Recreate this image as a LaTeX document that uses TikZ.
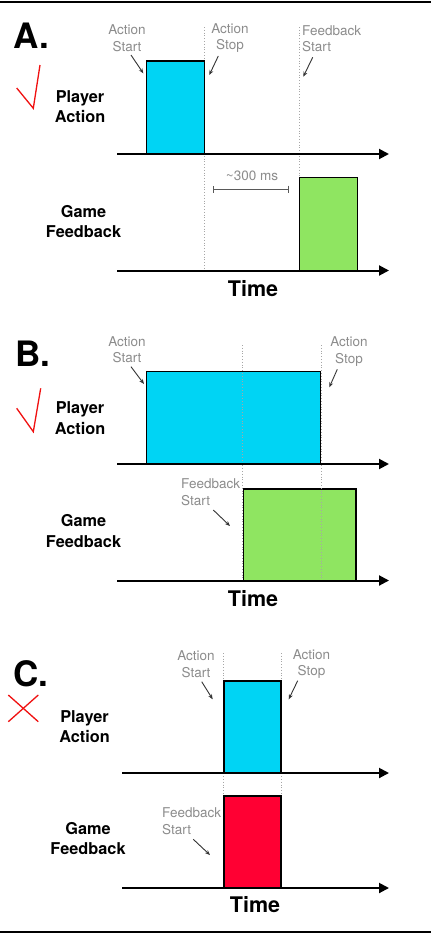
\documentclass[tikz,border=0pt]{standalone}
\usepackage{fontspec}
\setmainfont{TeX Gyre Heros}
\usetikzlibrary{arrows.meta}
\definecolor{barcyan}{HTML}{00D4F4}
\definecolor{bargreen}{HTML}{8FE561}
\definecolor{barred}{HTML}{FF0033}
\definecolor{lblgray}{HTML}{8C8C8C}
\definecolor{tickred}{HTML}{F01010}
\tikzset{
  bar/.style={draw=black, line width=1.4pt, inner sep=0pt, outer sep=0pt, anchor=south west},
  axis/.style={line width=2pt, -{Triangle[length=10pt,width=10pt]}},
  guide/.style={draw=gray!70, line width=0.8pt, dotted},
  lbl/.style={font=\fontsize{13.5}{16.5}\selectfont, text=lblgray, align=center, inner sep=0pt},
  lbll/.style={lbl, align=left, anchor=west},
  row/.style={font=\bfseries\fontsize{16.3}{20.5}\selectfont, align=center, inner sep=0pt},
  timel/.style={font=\bfseries\fontsize{21.5}{24}\selectfont, inner sep=0pt},
  letter/.style={font=\bfseries\fontsize{35}{36}\selectfont, inner sep=0pt, anchor=west},
  pointer/.style={draw=black!80, line width=0.9pt, -{Stealth[length=5pt,width=4pt]}},
  redmark/.style={draw=tickred, line width=1.3pt},
}
\begin{document}
\begin{tikzpicture}[x=1pt,y=-1pt]
\useasboundingbox[fill=white] (0,0) rectangle (431,935);
\draw[line width=1.8pt] (0,2) -- (431,2);
\draw[line width=1.8pt] (0,932) -- (431,932);

% ---------------- A ----------------
\node[letter] (la) at (13,35.5) {A.};
\draw[redmark] (16.7,88) -- (33.3,108.3) -- (40,65);
\node[row] (pa1) at (80,106.5) {Player\\Action};
\node[row] (ga1) at (83.5,221.5) {Game\\Feedback};
\coordinate (a1s) at (117,154); \coordinate (a1e) at (389,154);
\coordinate (a2s) at (117,270.5); \coordinate (a2e) at (389,270.5);
\coordinate (gA1t) at (204.3,27); \coordinate (gA1b) at (204.3,270.5);
\coordinate (gA2t) at (299.3,27); \coordinate (gA2b) at (299.3,270.5);
\draw[guide] (gA1t) -- (gA1b);
\draw[guide] (gA2t) -- (gA2b);
\node[bar, fill=barcyan, minimum width=57.6, minimum height=93] (ba) at (146.7,154) {};
\node[bar, fill=bargreen, minimum width=58, minimum height=92.8] (fa) at (299.3,270.5) {};
\draw[axis] (a1s) -- (a1e);
\draw[axis] (a2s) -- (a2e);
\node[lbl] (asa) at (127,38) {Action\\Start};
\node[lbl] (aoa) at (230,38) {Action\\Stop};
\node[lbll] (fsa) at (302,38.5) {Feedback\\Start};
\coordinate (pa1s) at (131,55); \coordinate (pa1e) at (143.3,73.3);
\coordinate (pa2s) at (218.3,56); \coordinate (pa2e) at (209.3,75);
\coordinate (pa3s) at (312.7,57.3); \coordinate (pa3e) at (303.3,76.7);
\draw[pointer] (pa1s) -- (pa1e);
\draw[pointer] (pa2s) -- (pa2e);
\draw[pointer] (pa3s) -- (pa3e);
\node[lbl] (ms) at (252,176) {\textasciitilde300 ms};
\coordinate (msl) at (213.3,189); \coordinate (msr) at (289.3,189);
\draw[draw=black!65, line width=1pt, {Bar[width=7pt]}-{Bar[width=7pt]}] (msl) -- (msr);
\node[timel] (ta) at (253,289) {Time};

% ---------------- B ----------------
\node[letter] (lb) at (15,353.5) {B.};
\draw[redmark] (16.7,408.3) -- (33.3,431.7) -- (40.7,388.3);
\node[row] (pb1) at (80,418) {Player\\Action};
\node[row] (gb1) at (83.5,531) {Game\\Feedback};
\coordinate (b1s) at (117,464); \coordinate (b1e) at (389,464);
\coordinate (b2s) at (117,580.5); \coordinate (b2e) at (389,580.5);
\node[bar, fill=barcyan, minimum width=174, minimum height=92.3] (bb) at (146.7,464) {};
\node[bar, fill=bargreen, minimum width=112.7, minimum height=91.5] (fb) at (243.3,580.5) {};
\coordinate (gB1t) at (242.7,345); \coordinate (gB1b) at (242.7,580.5);
\coordinate (gB2t) at (321.7,345); \coordinate (gB2b) at (321.7,580.5);
\draw[guide] (gB1t) -- (gB1b);
\draw[guide] (gB2t) -- (gB2b);
\draw[axis] (b1s) -- (b1e);
\draw[axis] (b2s) -- (b2e);
\node[lbl] (asb) at (127,349.5) {Action\\Start};
\node[lbl] (aob) at (349,351.5) {Action\\Stop};
\node[lbll] (fsb) at (181,492) {Feedback\\Start};
\coordinate (pb1s) at (131,366.7); \coordinate (pb1e) at (144,384);
\coordinate (pb2s) at (337.3,369.3); \coordinate (pb2e) at (329.3,387.3);
\coordinate (pb3s) at (213.3,510); \coordinate (pb3e) at (230,526);
\draw[pointer] (pb1s) -- (pb1e);
\draw[pointer] (pb2s) -- (pb2e);
\draw[pointer] (pb3s) -- (pb3e);
\node[timel] (tb) at (253,599) {Time};

% ---------------- C ----------------
\node[letter] (lc) at (13,673.5) {C.};
\draw[redmark] (8.3,695) -- (38.3,721.7);
\draw[redmark] (8.3,721.7) -- (38.3,695);
\node[row] (pc1) at (84.5,726.5) {Player\\Action};
\node[row] (gc1) at (88,838.5) {Game\\Feedback};
\coordinate (c1s) at (122,773); \coordinate (c1e) at (389,773);
\coordinate (c2s) at (122,888); \coordinate (c2e) at (389,888);
\coordinate (gC1t) at (223.5,653); \coordinate (gC1b) at (223.5,888);
\coordinate (gC2t) at (281,653); \coordinate (gC2b) at (281,888);
\draw[guide] (gC1t) -- (gC1b);
\draw[guide] (gC2t) -- (gC2b);
\node[bar, fill=barcyan, minimum width=57, minimum height=92] (bc) at (224,773) {};
\node[bar, fill=barred, minimum width=57, minimum height=92] (rc) at (224,888) {};
\draw[axis] (c1s) -- (c1e);
\draw[axis] (c2s) -- (c2e);
\node[lbl] (asc) at (196,664) {Action\\Start};
\node[lbl] (aoc) at (311.5,664) {Action\\Stop};
\node[lbll] (fsc) at (162,821) {Feedback\\Start};
\coordinate (pc1s) at (201.7,681.7); \coordinate (pc1e) at (212.7,699.3);
\coordinate (pc2s) at (297.7,680.7); \coordinate (pc2e) at (288.7,699.3);
\coordinate (pc3s) at (193.3,839.3); \coordinate (pc3e) at (210,855);
\draw[pointer] (pc1s) -- (pc1e);
\draw[pointer] (pc2s) -- (pc2e);
\draw[pointer] (pc3s) -- (pc3e);
\node[timel] (tc) at (255,904.5) {Time};
\end{tikzpicture}
\end{document}
